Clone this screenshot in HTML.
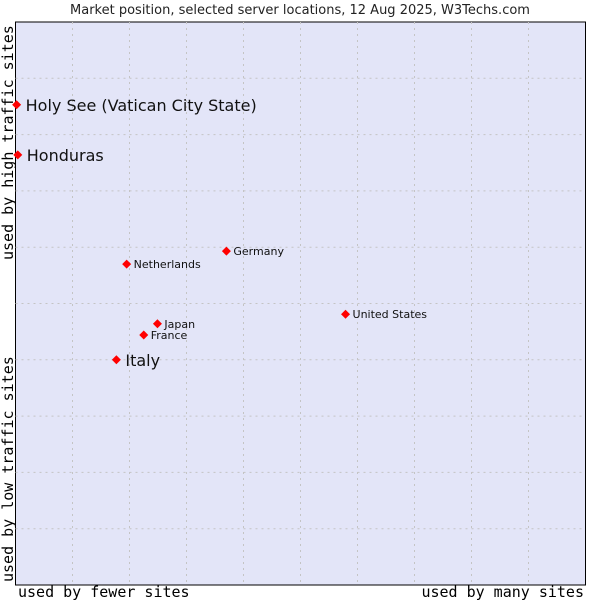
<!DOCTYPE html>
<html><head><meta charset="utf-8"><style>body{margin:0;background:#fff}svg{display:block}</style></head>
<body>
<svg id="chart" width="600" height="600" xmlns="http://www.w3.org/2000/svg">
<text x="300" y="14" text-anchor="middle" font-family="DejaVu Sans, sans-serif" font-size="13" fill="#222">Market position, selected server locations, 12 Aug 2025, W3Techs.com</text>
<rect x="15.5" y="22" width="570" height="563" fill="#e3e5f8" stroke="#000" stroke-width="1"/>
<g id="grid"></g>
<g id="points"></g>
<text transform="translate(13,260) rotate(-90)" font-family="DejaVu Sans Mono, Liberation Mono, monospace" font-size="15" fill="#000">used by high traffic sites</text>
<text transform="translate(13,582) rotate(-90)" font-family="DejaVu Sans Mono, Liberation Mono, monospace" font-size="15" fill="#000">used by low traffic sites</text>
<text x="18" y="597" font-family="DejaVu Sans Mono, Liberation Mono, monospace" font-size="15" fill="#000">used by fewer sites</text>
<text x="584" y="597" text-anchor="end" font-family="DejaVu Sans Mono, Liberation Mono, monospace" font-size="15" fill="#000">used by many sites</text>
</svg>
<script>
const names = ["Holy See (Vatican City State)","Honduras","Germany","Netherlands","United States","Japan","France","Italy"];
const xValues = [0.02,0.04,3.7,1.95,5.79,2.49,2.25,1.77];
const yValues = [8.53,7.64,5.93,5.70,4.81,4.64,4.44,4.0];
const highlighted = [true,true,false,false,false,false,false,true];
const NS="http://www.w3.org/2000/svg";
const L=15.5,R=585.5,T=22,B=585;
const sx=v=>L+(R-L)*v/10, sy=v=>B-(B-T)*v/10;
const grid=document.getElementById('grid');
for(let i=1;i<10;i++){
  const v=document.createElementNS(NS,'line');
  
  
  v.setAttribute('x1',sx(i));v.setAttribute('x2',sx(i));v.setAttribute('y1',T);v.setAttribute('y2',B);
  v.setAttribute('stroke','#c4c4c4');v.setAttribute('stroke-dasharray','2,4');grid.appendChild(v);
  const h=document.createElementNS(NS,'line');
  
  
  h.setAttribute('y1',sy(i));h.setAttribute('y2',sy(i));h.setAttribute('x1',L);h.setAttribute('x2',R);
  h.setAttribute('stroke','#c4c4c4');h.setAttribute('stroke-dasharray','2,4');grid.appendChild(h);
}
const pts=document.getElementById('points');
names.forEach((n,i)=>{
  const x=sx(xValues[i]),y=sy(yValues[i]);
  const d=document.createElementNS(NS,'path');
  
  
  d.setAttribute('d',`M${x} ${y-4.5}L${x+4.5} ${y}L${x} ${y+4.5}L${x-4.5} ${y}Z`);
  d.setAttribute('fill','#f00');pts.appendChild(d);
  const t=document.createElementNS(NS,'text');
  
  
  const big=highlighted[i];
  t.setAttribute('x',x+(big?9:7));t.setAttribute('y',y+(big?6:4));
  t.setAttribute('font-family','DejaVu Sans, sans-serif');
  t.setAttribute('font-size',big?16:11);t.setAttribute('fill','#111');
  t.textContent=n;pts.appendChild(t);
});
</script>
</body></html>
